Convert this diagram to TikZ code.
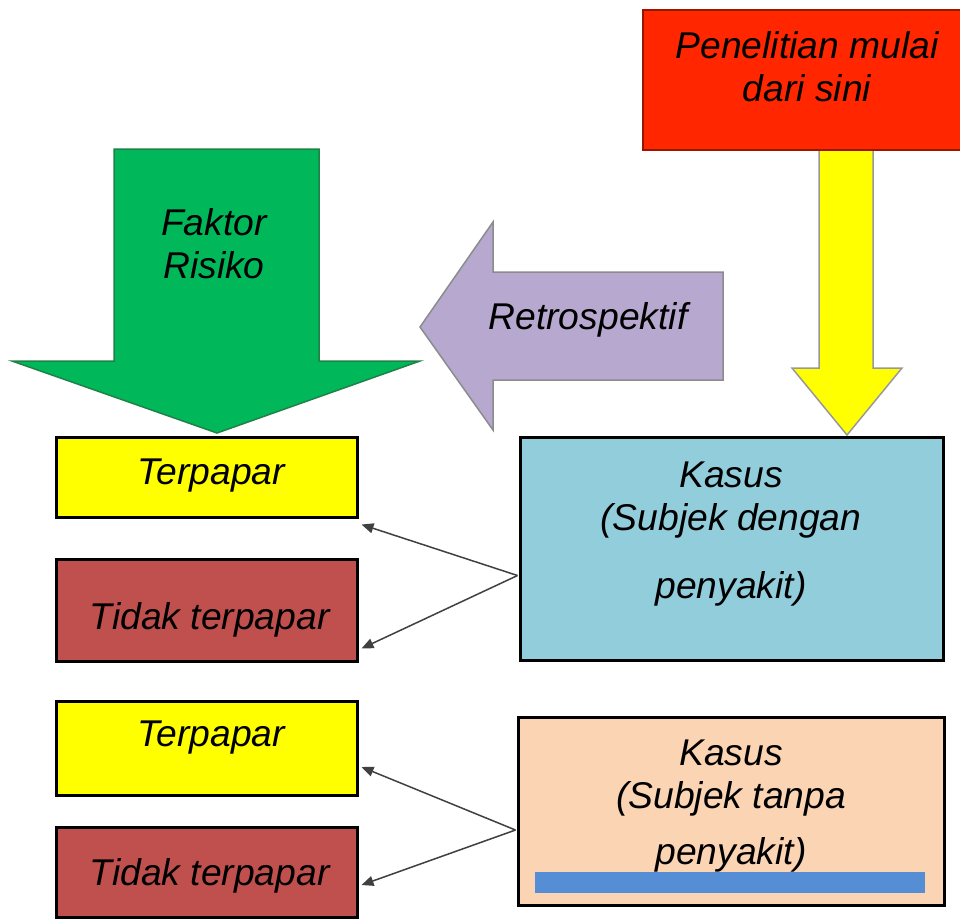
\documentclass[tikz,border=0pt]{standalone}
\usepackage{fontspec}
\setmainfont{Liberation Sans}
\usepackage{tikz}
\usetikzlibrary{arrows.meta,calc}
\definecolor{hijau}{RGB}{0,184,90}
\definecolor{hijaugaris}{RGB}{30,130,70}
\definecolor{ungu}{RGB}{182,168,206}
\definecolor{kuning}{RGB}{255,255,0}
\definecolor{merah}{RGB}{255,38,0}
\definecolor{bata}{RGB}{192,80,77}
\definecolor{biru}{RGB}{146,205,220}
\definecolor{krem}{RGB}{251,212,180}
\definecolor{birutua}{RGB}{85,142,213}

\begin{document}
\begin{tikzpicture}[x=0.2mm,y=-0.2mm,
    every node/.style={inner sep=0pt,font=\fontsize{21.2}{24.5}\selectfont\itshape},
    kotak/.style={draw=black,line width=0.6mm},
    kiri/.style={kotak,minimum width=60mm},
    teks/.style={align=center},
    garis/.style={draw=black!75,line width=0.3mm,-{Triangle[length=2.4mm,width=2mm]}}]
    \useasboundingbox (0,0) rectangle (960,920);
    \draw [fill=hijau,draw=hijaugaris,line width=0.3mm] (114,149) -- (319,149) -- (319,361) -- (420,361) -- (217,433) -- (12,361) -- (114,361) -- cycle;
    \draw [fill=ungu,draw=black!45,line width=0.3mm] (420,327) -- (493,222) -- (493,272) -- (723,272) -- (723,380) -- (493,380) -- (493,430) -- cycle;
    \draw [fill=kuning,draw=black!40,line width=0.3mm] (819,150) -- (873,150) -- (873,368) -- (902,368) -- (847,435) -- (792,368) -- (819,368) -- cycle;
    \node [fill=merah,draw=merah!60!black,line width=0.3mm,minimum width=65.4mm,minimum height=28mm] (mulai) at (806.5,80) {};
    \node [teks] (tmulai) at (807,67) {Penelitian mulai\\dari sini};
    \node [teks] (tfaktor) at (214,244) {Faktor\\Risiko};
    \node (tretro) at (588,320) {Retrospektif};
    \node [kiri,fill=kuning,minimum height=16mm] (ter1) at (207,477) {};
    \node (tter1) at (211,476) {Terpapar};
    \node [kiri,fill=bata,minimum height=20.4mm] (tid1) at (207,610) {};
    \node (ttid1) at (209.5,620) {Tidak terpapar};
    \node [kiri,fill=kuning,minimum height=18.8mm] (ter2) at (207,748) {};
    \node (tter2) at (211,738) {Terpapar};
    \node [kiri,fill=bata,minimum height=18mm] (tid2) at (207,872) {};
    \node (ttid2) at (209.5,876) {Tidak terpapar};
    \node [kotak,fill=biru,minimum width=84.6mm,minimum height=44.6mm] (kasus1) at (731.5,548.5) {};
    \node [teks] (tkasus1) at (731,534) {Kasus\\(Subjek dengan\\[4.8mm]penyakit)};
    \node [kotak,fill=krem,minimum width=85.2mm,minimum height=37.6mm] (kasus2) at (731,811) {};
    \fill [birutua] (535,872) rectangle (925,893);
    \node [teks] (tkasus2) at (731,806) {Kasus\\(Subjek tanpa\\[2.4mm]penyakit)};
    \draw [garis] ($(kasus1.west)+(-1,27)$) -- ($(ter1.south east)+(3,6)$);
    \draw [garis] ($(kasus1.west)+(-1,27)$) -- ($(tid1.south east)+(3,-14)$);
    \draw [garis] ($(kasus2.west)+(-1,19)$) -- ($(ter2.east)+(3,19)$);
    \draw [garis] ($(kasus2.west)+(-1,19)$) -- ($(tid2.east)+(3,13)$);
\end{tikzpicture}
\end{document}
